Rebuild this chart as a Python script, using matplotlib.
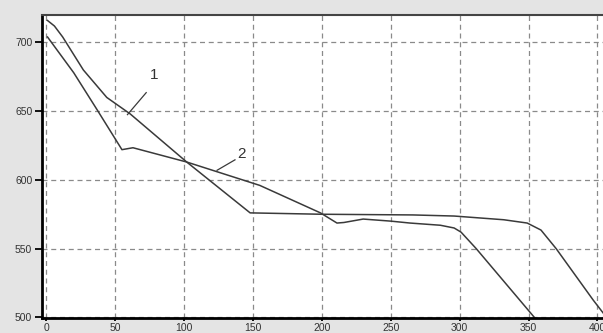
import matplotlib.pyplot as plt

# curve 1 and curve 2
x1 = [1, 6, 12, 27, 44, 61, 102, 148, 200, 266, 296, 332, 349, 359, 370, 397, 405]
y1 = [716, 712, 704, 680, 660, 648, 613, 576, 575, 574.5, 573.7, 571, 568.6, 563.5, 550, 512.4, 502]

x2 = [1, 20, 37, 55, 63, 102, 155, 199, 211, 216, 230, 250, 264, 286, 296, 301, 312, 355]
y2 = [704, 678, 651, 622, 623.4, 613, 596, 576, 568.6, 569, 571.5, 570, 568.6, 567, 565, 562, 550, 499]

xticks = [0, 50, 100, 150, 200, 250, 300, 350, 400]
yticks = [500, 550, 600, 650, 700]

plt.rcParams['font.family'] = ['Liberation Sans', 'DejaVu Sans']

fig = plt.figure(figsize=(6.03, 3.33), dpi=100, facecolor='#e4e4e4')
ax = fig.add_axes([42/603, 15/333, 1 - 42/603, 303/333])
ax.set_facecolor('white')

ax.plot(x1, y1, color='#3a3a3a', lw=1.1)
ax.plot(x2, y2, color='#3a3a3a', lw=1.1)

ax.set_xlim(-3, 404)
ax.set_ylim(499.5, 720)
ax.set_xticks(xticks)
ax.set_yticks(yticks)
ax.grid(True, color='#8a8a8a', linestyle=(0, (4, 3)), linewidth=0.9)

for s in ['left', 'bottom']:
    ax.spines[s].set_linewidth(2)
    ax.spines[s].set_color('black')
ax.spines['top'].set_linewidth(1.5)
ax.spines['top'].set_color('#444444')
ax.spines['right'].set_visible(False)

ax.tick_params(axis='y', length=5, width=1.3, pad=2, labelsize=7.5, labelcolor='#333333')
ax.tick_params(axis='x', length=2, width=1.3, pad=1.5, labelsize=7.5, labelcolor='#333333')

# curve labels with leader lines
ax.plot([59, 72.6], [647.5, 663.5], color='#3a3a3a', lw=0.9)
ax.text(78, 676, '1', fontsize=11, color='#333333', ha='center', va='center')
ax.plot([124, 137], [607, 614.6], color='#3a3a3a', lw=0.9)
ax.text(142, 619, '2', fontsize=11, color='#333333', ha='center', va='center')

fig.savefig('out.png', dpi=100, facecolor=fig.get_facecolor())
